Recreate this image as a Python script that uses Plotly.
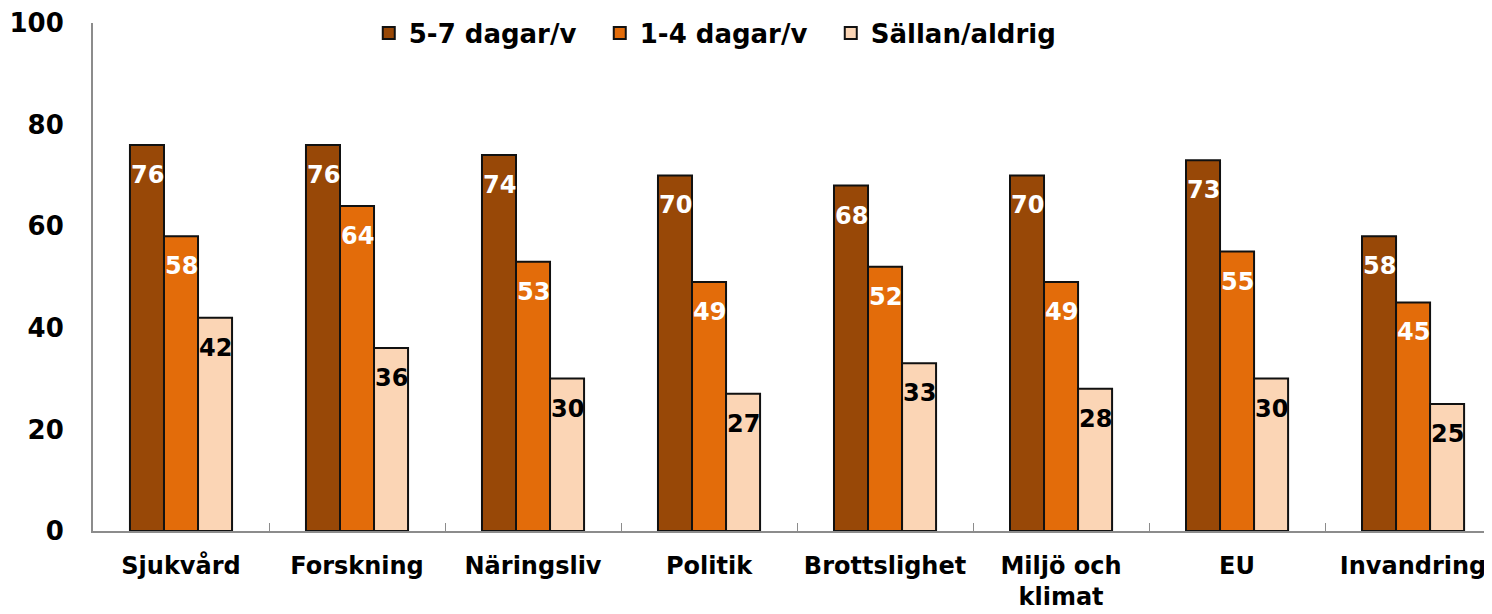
import plotly.graph_objects as go

categories = ["Sjukvård", "Forskning", "Näringsliv", "Politik", "Brottslighet",
              "Miljö och<br>klimat", "EU", "Invandring"]
series_names = ["5-7 dagar/v", "1-4 dagar/v", "Sällan/aldrig"]
s1 = [76, 76, 74, 70, 68, 70, 73, 58]
s2 = [58, 64, 53, 49, 52, 49, 55, 45]
s3 = [42, 36, 30, 27, 33, 28, 30, 25]
y_ticks = [0, 20, 40, 60, 80, 100]

colors = ["#984807", "#E36C0A", "#FBD5B5"]
label_colors = ["white", "white", "black"]
FONT = "DejaVu Sans"

fig = go.Figure()
for name, vals, col in zip(series_names, [s1, s2, s3], colors):
    fig.add_trace(go.Bar(
        x=categories, y=vals, name=name,
        marker=dict(color=col, line=dict(color="#111111", width=2)),
    ))

# value labels ~30px below bar top, centred on each bar of the group
bar_px = 34
shifts = [-bar_px, 0, bar_px]
for vals, sh, lc in zip([s1, s2, s3], shifts, label_colors):
    for c, v in zip(categories, vals):
        fig.add_annotation(x=c, y=v, xref="x", yref="y", text=str(v),
                           showarrow=False, xshift=sh, yshift=-30,
                           font=dict(family=FONT, size=24, color=lc, weight="bold"))

fig.update_layout(
    width=1492, height=614,
    margin=dict(l=85, r=0, t=15, b=91, autoexpand=False),
    paper_bgcolor="white", plot_bgcolor="white",
    barmode="group", bargap=0.42, bargroupgap=0,
    font=dict(family=FONT, size=24, color="black", weight="bold"),
    legend=dict(orientation="h", x=0.196, xanchor="left", y=0.98, yanchor="middle",
                font=dict(family=FONT, size=26, color="black", weight="bold"),
                itemwidth=30, traceorder="normal", bgcolor="rgba(0,0,0,0)",
                entrywidth=186, entrywidthmode="pixels"),
    showlegend=True,
)
fig.update_xaxes(range=[-0.5, 7.494], showline=True, linecolor="#8c8c8c", linewidth=2,
                 ticks="inside", ticklen=8, tickcolor="#8c8c8c", tickson="boundaries",
                 showgrid=False, ticklabelstandoff=12, automargin=False, tickangle=0,
                 tickfont=dict(family=FONT, size=24, color="black", weight="bold"))
fig.update_yaxes(range=[0, 100], tickvals=y_ticks, showline=True, linecolor="#8c8c8c",
                 linewidth=2, showgrid=False, zeroline=False, ticks="",
                 ticklabelstandoff=22, automargin=False,
                 tickfont=dict(family=FONT, size=26, color="black", weight="bold"))

fig.write_html("out.html")
